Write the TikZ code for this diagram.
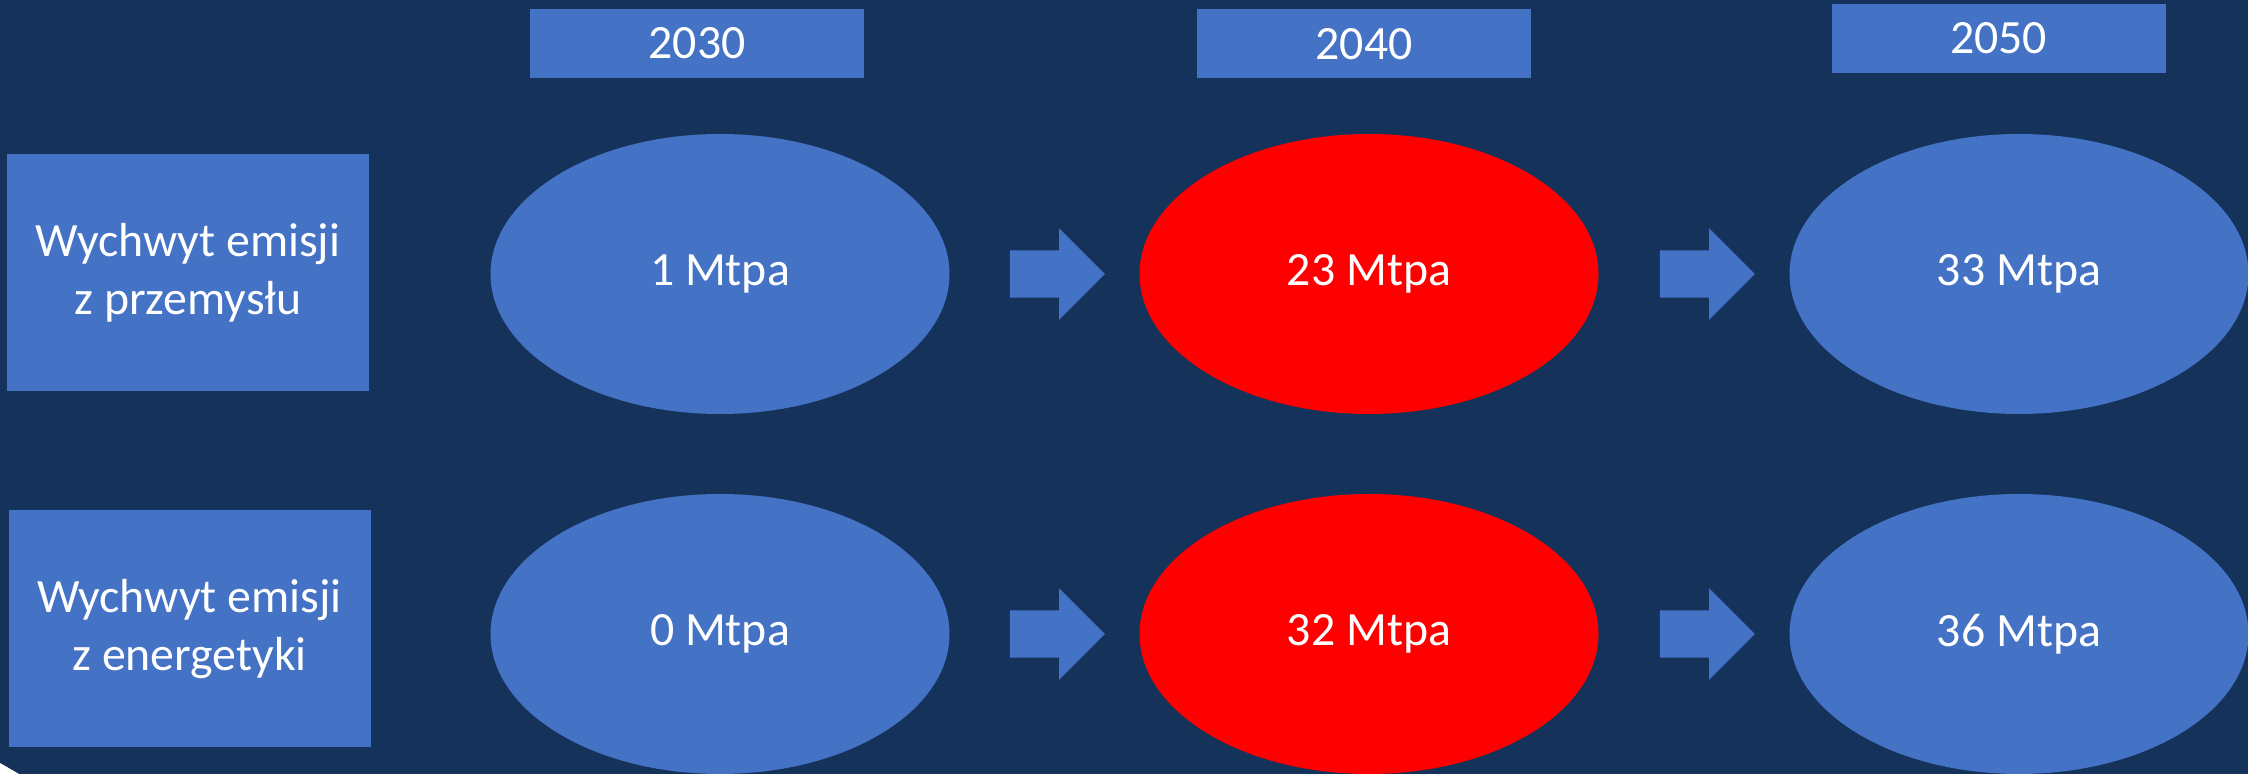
\documentclass[tikz,border=0pt]{standalone}
\usepackage{fontspec}
\setmainfont{Carlito}
\usetikzlibrary{positioning,shapes.geometric,shapes.arrows}

\definecolor{tlo}{HTML}{14325A}
\definecolor{niebieski}{HTML}{4472C4}
\definecolor{czerwony}{HTML}{FF0000}

\tikzset{
    napis/.style={text=white, font=\fontsize{13.6}{16.5}\selectfont, align=center},
    rok/.style={napis, fill=niebieski, minimum width=3.34cm, minimum height=0.69cm, inner sep=0pt},
    sektor/.style={napis, fill=niebieski, minimum width=3.62cm, minimum height=2.37cm, inner sep=0pt},
    wartosc/.style={napis, ellipse, fill=#1, minimum width=4.59cm, minimum height=2.80cm, inner sep=0pt},
    wartosc/.default=niebieski,
    strzalka/.style={single arrow, fill=niebieski, minimum height=0.95cm, inner xsep=0pt, inner ysep=0.23cm,
        single arrow head extend=0.22cm, single arrow tip angle=90, single arrow head indent=0pt}
}

\begin{document}
\begin{tikzpicture}
    % Tlo
    \fill[tlo] (0,0) rectangle (22.48,7.74);
    \useasboundingbox (0,0) rectangle (22.48,7.74);

    % Lata
    \node[rok] (r2030) at (6.97,7.305)  {2030};
    \node[rok] (r2040) at (13.64,7.30)  {2040};
    \node[rok] (r2050) at (19.985,7.355) {2050};

    % Sektory
    \node[sektor] (przemysl)   at (1.88,5.015) {Wychwyt emisji\\z przemysłu};
    \node[sektor] (energetyka) at (1.895,1.45) {Wychwyt emisji\\z energetyki};

    % Przemysl
    \node[wartosc] (p1) at (7.20,5.00)  {1 Mtpa};
    \node[wartosc=czerwony] (p2) at (13.69,5.00) {23 Mtpa};
    \node[wartosc] (p3) at (20.19,5.00) {33 Mtpa};

    % Energetyka
    \node[wartosc] (e1) at (7.20,1.40)  {0 Mtpa};
    \node[wartosc=czerwony] (e2) at (13.69,1.40) {32 Mtpa};
    \node[wartosc] (e3) at (20.19,1.40) {36 Mtpa};

    % Strzalki
    \node[strzalka, anchor=west, right=0.59cm of p1] (sp1) {};
    \node[strzalka, anchor=west, right=0.60cm of p2] (sp2) {};
    \node[strzalka, anchor=west, right=0.59cm of e1] (se1) {};
    \node[strzalka, anchor=west, right=0.60cm of e2] (se2) {};

    % Rog
    \fill[white] (0,0) -- (0,0.11) -- (0.19,0) -- cycle;
\end{tikzpicture}
\end{document}
